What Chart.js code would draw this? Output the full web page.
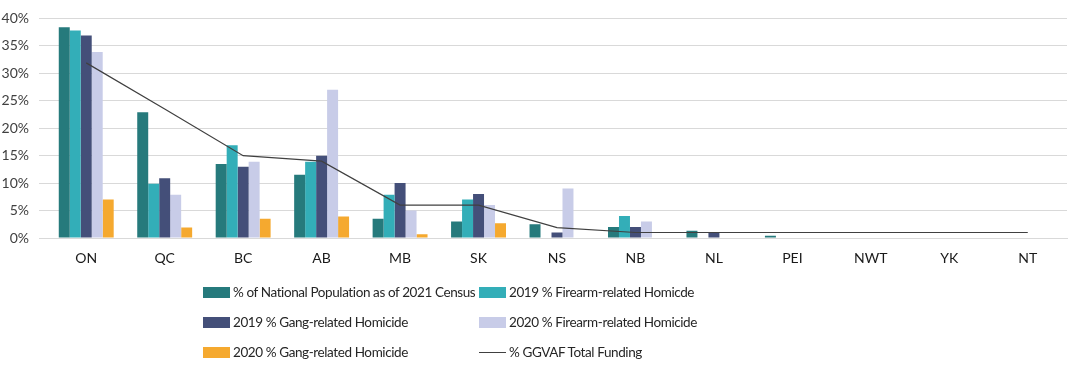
<!DOCTYPE html>
<html>
<head>
<meta charset="utf-8">
<script src="https://cdn.jsdelivr.net/npm/chart.js@4.4.0/dist/chart.umd.min.js"></script>
<style>
  body { margin: 0; background: #fff; }
  #wrap { position: relative; width: 1075px; height: 370px; }
  #legend { position: absolute; left: 0; top: 0; width: 1075px; height: 370px; pointer-events: none;
            font: 13.5px Lato, sans-serif; letter-spacing: -0.4px; color: #262626; }
  .item { position: absolute; height: 18px; line-height: 18px; white-space: nowrap; }
  .swatch { display: inline-block; width: 27px; height: 11px; vertical-align: middle; margin-right: 3px; margin-top: -2px; }
  .swatch.line { height: 0; border-top: 1.5px solid #404040; }
</style>
</head>
<body>
<div id="wrap">
  <canvas id="grafico"></canvas>
  <div id="legend"></div>
</div>
<script>
const provinces = ['ON', 'QC', 'BC', 'AB', 'MB', 'SK', 'NS', 'NB', 'NL', 'PEI', 'NWT', 'YK', 'NT'];

const population2021 = [38.4, 22.9, 13.5, 11.5, 3.5, 3.0, 2.5, 2.0, 1.3, 0.4, 0.1, 0.1, 0.1];
const firearm2019 = [37.8, 9.9, 16.9, 13.9, 7.9, 7.0, 0, 4.0, 0, 0, 0, 0, 0];
const gang2019 = [36.9, 10.9, 13.0, 15.0, 10.0, 8.0, 1.0, 2.0, 0.9, 0, 0, 0, 0];
const firearm2020 = [33.9, 7.9, 13.9, 27.0, 5.0, 6.0, 9.0, 3.0, 0.1, 0, 0, 0, 0];
const gang2020 = [7.0, 1.9, 3.5, 3.9, 0.7, 2.7, 0, 0, 0.1, 0, 0, 0, 0];
const ggvafFunding = [31.9, 23.5, 15.0, 14.0, 6.0, 6.0, 1.9, 1.0, 1.0, 1.0, 1.0, 1.0, 1.0];

const yTicks = [0, 5, 10, 15, 20, 25, 30, 35, 40];

const ctx = document.getElementById('grafico').getContext('2d');
Chart.defaults.font.family = 'Lato, sans-serif';
Chart.defaults.font.size = 14;

const grafico = new Chart(ctx, {
  type: 'bar',
  data: {
    labels: provinces,
    datasets: [
      { label: '% GGVAF Total Funding', type: 'line', data: ggvafFunding, borderColor: '#404040',
        borderWidth: 1.2, pointRadius: 0, tension: 0, order: 0, fill: false },
      { label: '% of National Population as of 2021 Census', data: population2021, backgroundColor: '#267A7C', order: 1 },
      { label: '2019 % Firearm-related Homicde', data: firearm2019, backgroundColor: '#33AEB8', order: 1 },
      { label: '2019 % Gang-related Homicide', data: gang2019, backgroundColor: '#444F79', order: 1 },
      { label: '2020 % Firearm-related Homicide', data: firearm2020, backgroundColor: '#C8CCE8', order: 1 },
      { label: '2020 % Gang-related Homicide', data: gang2020, backgroundColor: '#F5A92F', order: 1 }
    ]
  },
  options: {
    responsive: true,
    maintainAspectRatio: false,
    animation: false,
    datasets: { bar: { categoryPercentage: 0.7, barPercentage: 1.0 } },
    layout: { padding: { top: 4, right: 8, bottom: 102, left: 0 } },
    plugins: { legend: { display: false }, tooltip: { enabled: false } },
    scales: {
      x: {
        grid: { display: false },
        border: { color: '#d9d9d9' },
        ticks: { color: '#1a1a1a', padding: 4 },
        afterFit: s => { s.height = 30; }
      },
      y: {
        min: 0, max: 40,
        afterBuildTicks: s => { s.ticks = yTicks.map(v => ({ value: v })); },
        grid: { color: '#d9d9d9' },
        border: { display: false },
        ticks: { color: '#404040', padding: 10, callback: v => v + '%' },
        afterFit: s => { s.width = 47; }
      }
    }
  }
});

// legenda em html, duas colunas como no original
const ordem = [1, 2, 3, 4, 5, 0];
const legend = document.getElementById('legend');
ordem.forEach((idx, i) => {
  const ds = grafico.data.datasets[idx];
  const col = i % 2, row = Math.floor(i / 2);
  const item = document.createElement('div');
  item.className = 'item';
  item.style.left = (col === 0 ? 203 : 479) + 'px';
  item.style.top = (283 + row * 30) + 'px';
  const sw = document.createElement('span');
  sw.className = 'swatch' + (ds.type === 'line' ? ' line' : '');
  if (ds.type !== 'line') sw.style.background = ds.backgroundColor;
  item.appendChild(sw);
  item.appendChild(document.createTextNode(ds.label));
  legend.appendChild(item);
});
</script>
</body>
</html>
